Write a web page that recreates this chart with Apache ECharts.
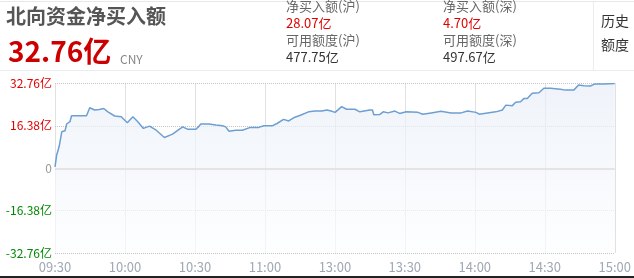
<!DOCTYPE html>
<html><head><meta charset="utf-8">
<script src="https://cdn.jsdelivr.net/npm/echarts@6/dist/echarts.min.js"></script>
<style>html,body{margin:0;padding:0;background:#fff}#c{width:634px;height:278px}</style>
</head><body><div id="c"></div>
<script>
const title = '北向资金净买入额';
const totalValue = '32.76亿';
const shLabel = '净买入额(沪)', shValue = '28.07亿';
const szLabel = '净买入额(深)', szValue = '4.70亿';
const shQuotaLabel = '可用额度(沪)', shQuotaValue = '477.75亿';
const szQuotaLabel = '可用额度(深)', szQuotaValue = '497.67亿';
const xTickLabels = ['09:30','10:00','10:30','11:00','13:00','13:30','14:00','14:30','15:00'];
const yTicks = [-32.76,-16.38,0,16.38,32.76];
// minutes since 09:30 (trading minutes; 11:30 and 13:00 merged)
const minutes = [0,0.7,1.8,2.9,4.3,5,6.4,7.1,13.5,14.9,17,19,20.9,22.7,25.6,28.4,31,33.4,35.5,37.9,40.5,43.4,46.9,50.4,54.7,56.8,60.4,61.8,62.5,66,69,71.8,73.2,74.6,77.5,80.3,83.8,87.4,89.5,93.1,95.2,98,100.2,102.3,105.2,108.7,111.6,114.4,116.5,118,120.1,122.9,125,128.6,130.7,135,136.1,136.7,139.3,140.7,142.8,145.7,147.8,150.6,155.6,157.7,161.3,165.5,169.8,174.1,176.9,180.5,181.9,185.4,189,191.8,193.3,196.1,197.5,199.6,201.1,202.5,204.6,207.5,209.6,212.4,216.7,218.8,222.4,224.5,226.7,229.5,231.6,235.2,240];
const netBuy = [0.5,5.0,8.5,14.1,14.5,17.1,18,20.3,20.3,23.4,22.5,22.7,23.1,21.8,20.2,19.9,17.6,19.9,18,15.4,16.3,14.7,11.9,13.2,16,15.1,15.1,16.3,17.1,17.1,16.7,16.4,16.0,14.3,14.7,14.7,15.8,15.8,16.4,16.4,17.3,18.9,18.3,19.5,20.5,21.8,22.1,22.1,22.5,22.2,21.6,23.8,22.8,22.8,21.8,22.5,22.5,20.7,20.8,21.8,21.4,22.1,21.2,21.8,21.6,20.9,21.4,22.0,21.4,21.4,22.1,21.6,20.9,21.4,21.8,22.5,24.4,24.2,25.5,25.7,27.0,27.0,29.0,29.2,30.9,30.9,30.5,30.2,30.2,32.2,31.9,31.8,32.6,32.6,32.76];

const data = minutes.map((m,i)=>[m, netBuy[i]]);
const font = '"Noto Sans CJK SC", "Microsoft YaHei", sans-serif';
const chart = echarts.init(document.getElementById('c'), null, {renderer:'canvas'});
function txt(x,y,text,size,color,weight){
  return {type:'text', left:x, top:y, style:{text:text, font:(weight||'normal')+' '+size+'px '+font, fill:color}};
}
chart.setOption({
  animation:false,
  grid:{left:55, right:16, top:83.5, bottom:25},
  graphic:[
    {type:'rect', left:0, top:1, shape:{width:634,height:1}, style:{fill:'#e8e8e8'}},
    {type:'rect', left:0, top:70, shape:{width:634,height:1}, style:{fill:'#ececec'}},
    {type:'rect', left:593, top:2, shape:{width:1,height:68}, style:{fill:'#ececec'}},
    {type:'rect', left:0, top:276, shape:{width:634,height:2}, style:{fill:'#222'}},
    txt(6,6,title,20,'#555','bold'),
    txt(8,37,totalValue,28,'#cc0000','bold'),
    txt(120,53,'CNY',12,'#888'),
    txt(286,0,shLabel,13,'#666'),
    txt(286,17,shValue,13,'#e00000'),
    txt(286,34,shQuotaLabel,13,'#666'),
    txt(286,51,shQuotaValue,13,'#333'),
    txt(443,0,szLabel,13,'#666'),
    txt(443,17,szValue,13,'#e00000'),
    txt(443,34,szQuotaLabel,13,'#666'),
    txt(443,51,szQuotaValue,13,'#333'),
    txt(601,14,'历史',14,'#333'),
    txt(601,38,'额度',14,'#333')
  ],
  xAxis:{type:'value', min:0, max:240, interval:30,
    axisLine:{show:false}, axisTick:{show:false},
    axisLabel:{color:'#a0a8b4', fontSize:13, fontFamily:font, margin:8,
      formatter:(v)=>xTickLabels[Math.round(v/30)]},
    splitLine:{show:true, lineStyle:{type:'dotted', color:'#c4c4c4', width:1}}},
  yAxis:{type:'value', min:-32.76, max:32.76, interval:16.38,
    axisLine:{show:false}, axisTick:{show:false},
    axisLabel:{fontSize:12, fontFamily:font, margin:3,
      formatter:(v)=>{ if(Math.abs(v)<1e-6) return '0'; return v.toFixed(2)+'亿'; },
      color:(v)=>{ v=Number(v); if(Math.abs(v)<1e-6) return '#999'; return v>0?'#e00000':'#008800'; }},
    splitLine:{show:true, lineStyle:{type:'dotted', color:'#c4c4c4', width:1}}},
  series:[{type:'line', data:data, showSymbol:false, symbol:'none',
    lineStyle:{color:'#6d9fd3', width:1.5},
    areaStyle:{origin:'start', color:new echarts.graphic.LinearGradient(0,0,0,1,[{offset:0,color:'#e8eef7'},{offset:1,color:'#fcfdfe'}])},
    markLine:{silent:true, symbol:'none', label:{show:false},
      lineStyle:{type:'solid', color:'#e4e4e4', width:2}, data:[{yAxis:0}]}
  }]
});
</script></body></html>
